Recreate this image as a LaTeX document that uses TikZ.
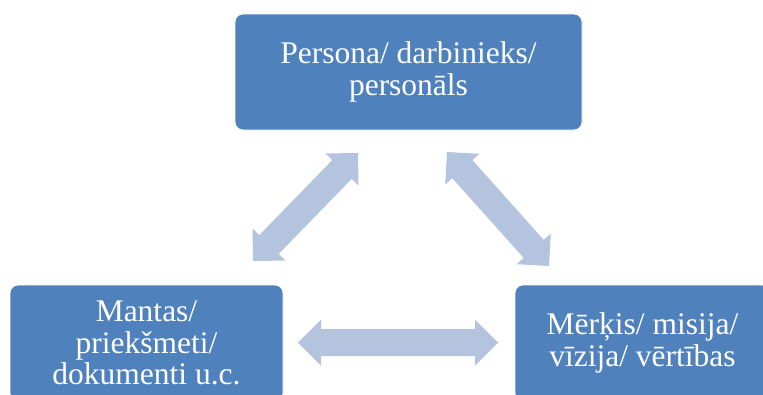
\documentclass[tikz,border=0pt]{standalone}
\usepackage{fontspec}
\newfontfamily\boxfont{LiberationSerif-Regular.ttf}
\usetikzlibrary{calc}
\definecolor{boxblue}{HTML}{4F81BD}
\definecolor{arrowc}{HTML}{B4C3DE}
\tikzset{
  block/.style={rectangle, rounded corners=8pt, fill=boxblue, draw=white, line width=0.8pt,
    text=white, align=center, minimum height=116pt,
    font=\boxfont\fontsize{31.5}{31.5}\selectfont},
}
\newcommand{\dblarrow}[2]{%
  \fill[arrowc] (#1) -- ($($(#1)!23pt!(#2)$)!23pt!90:(#2)$)
    -- ($($(#1)!23pt!(#2)$)!13.5pt!90:(#2)$)
    -- ($($(#2)!23pt!(#1)$)!13.5pt!-90:(#1)$)
    -- ($($(#2)!23pt!(#1)$)!23pt!-90:(#1)$)
    -- (#2)
    -- ($($(#2)!23pt!(#1)$)!23pt!90:(#1)$)
    -- ($($(#2)!23pt!(#1)$)!13.5pt!90:(#1)$)
    -- ($($(#1)!23pt!(#2)$)!13.5pt!-90:(#2)$)
    -- ($($(#1)!23pt!(#2)$)!23pt!-90:(#2)$)
    -- cycle;}
\begin{document}
\begin{tikzpicture}[x=1pt,y=-1pt]
\path[use as bounding box, clip] (0,0) rectangle (763,394);
\fill[white] (0,0) rectangle (763,394);
\node[block, minimum width=347pt] (top) at (408.5,72) {Persona/ darbinieks/\\personāls};
\node[block, minimum width=273pt] (left) at (146.5,343) {Mantas/\\priekšmeti/\\dokumenti u.c.};
\node[block, minimum width=255pt] (right) at (642.5,343) {Mērķis/ misija/\\vīzija/ vērtības};
\coordinate (a1) at (253,261);
\coordinate (a2) at (358,153);
\coordinate (b1) at (447,152);
\coordinate (b2) at (549,266);
\coordinate (c1) at (298,342.5);
\coordinate (c2) at (498,342.5);
\dblarrow{a1}{a2}
\dblarrow{b1}{b2}
\dblarrow{c1}{c2}
\end{tikzpicture}
\end{document}
